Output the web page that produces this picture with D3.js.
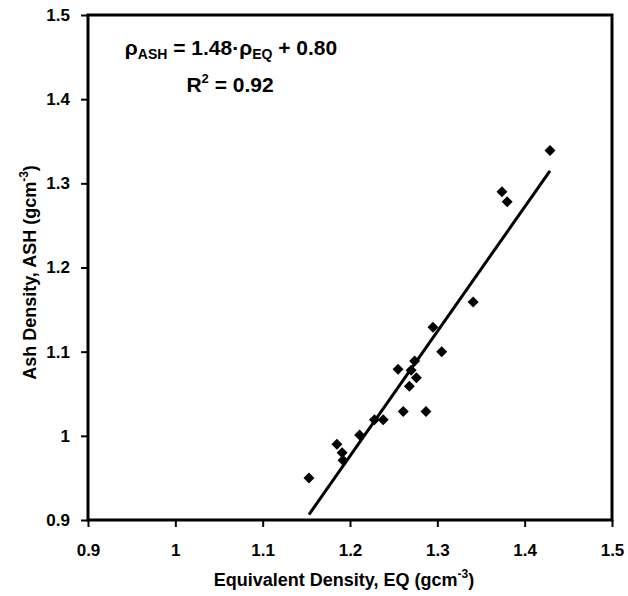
<!DOCTYPE html>
<html>
<head>
<meta charset="utf-8">
<script src="https://cdn.jsdelivr.net/npm/d3@7"></script>
<style>
  body { margin: 0; background: #fff; }
  svg { display: block; font-family: "Liberation Sans", Arial, sans-serif; }
</style>
</head>
<body>
<svg id="chart" width="628" height="596"></svg>
<script>
// data
const eqDensity = [1.153, 1.185, 1.191, 1.192, 1.211, 1.228, 1.238, 1.261, 1.287,
  1.255, 1.274, 1.270, 1.276, 1.268, 1.305, 1.295, 1.341, 1.374, 1.380, 1.429];
const ashDensity = [0.950, 0.990, 0.980, 0.971, 1.001, 1.019, 1.019, 1.029, 1.029,
  1.079, 1.089, 1.078, 1.069, 1.059, 1.100, 1.129, 1.159, 1.290, 1.278, 1.339];
const xTicks = [0.9, 1, 1.1, 1.2, 1.3, 1.4, 1.5];
const yTicks = [0.9, 1, 1.1, 1.2, 1.3, 1.4, 1.5];
const fitSlope = 1.48;
const fitIntercept = -0.80;

const margin = { top: 15, right: 16, bottom: 76, left: 88 };
const width = 628 - margin.left - margin.right;
const height = 596 - margin.top - margin.bottom;

const svg = d3.select("#chart");
const g = svg.append("g")
  .attr("transform", `translate(${margin.left},${margin.top})`);

const x = d3.scaleLinear().domain([0.9, 1.5]).range([0, width]);
const y = d3.scaleLinear().domain([0.9, 1.5]).range([height, 0]);

const fmt = d => d === 1 ? "1" : d3.format(".1f")(d);

// axes
const xAxis = g.append("g")
  .attr("transform", `translate(0,${height})`)
  .call(d3.axisBottom(x).tickValues(xTicks).tickFormat(fmt).tickSize(7).tickPadding(17));
const yAxis = g.append("g")
  .call(d3.axisLeft(y).tickValues(yTicks).tickFormat(fmt).tickSize(7).tickPadding(11));

[xAxis, yAxis].forEach(a => {
  a.select(".domain").remove();
  a.selectAll("line").attr("stroke", "#000").attr("stroke-width", 2);
  a.selectAll("text")
    .attr("fill", "#000")
    .style("font-size", "17px")
    .style("font-weight", "bold")
    .style("font-family", "'Liberation Sans Narrow', 'Liberation Sans', Arial, sans-serif");
});

// frame
g.append("rect")
  .attr("width", width)
  .attr("height", height)
  .attr("fill", "none")
  .attr("stroke", "#000")
  .attr("stroke-width", 3);

// fitted line
const x0 = d3.min(eqDensity), x1 = d3.max(eqDensity);
g.append("line")
  .attr("x1", x(x0)).attr("y1", y(fitSlope * x0 + fitIntercept))
  .attr("x2", x(x1)).attr("y2", y(fitSlope * x1 + fitIntercept))
  .attr("stroke", "#000")
  .attr("stroke-width", 3);

// points
const points = eqDensity.map((d, i) => ({ eq: d, ash: ashDensity[i] }));
g.selectAll(".pt")
  .data(points)
  .join("path")
  .attr("class", "pt")
  .attr("d", d3.symbol(d3.symbolSquare, 60))
  .attr("transform", d => `translate(${x(d.eq)},${y(d.ash)}) rotate(45)`)
  .attr("fill", "#000");

// equation
const eq = g.append("text")
  .attr("x", 143)
  .attr("y", 40)
  .attr("text-anchor", "middle")
  .style("font-size", "21px")
  .style("font-weight", "bold");
eq.append("tspan").text("ρ");
eq.append("tspan").attr("dy", 4).style("font-size", "14px").text("ASH");
eq.append("tspan").attr("dy", -4).text(" = 1.48·ρ");
eq.append("tspan").attr("dy", 4).style("font-size", "14px").text("EQ");
eq.append("tspan").attr("dy", -4).text(" + 0.80");

const r2 = g.append("text")
  .attr("x", 142)
  .attr("y", 77)
  .attr("text-anchor", "middle")
  .style("font-size", "21px")
  .style("font-weight", "bold");
r2.append("tspan").text("R");
r2.append("tspan").attr("dy", -9).style("font-size", "13px").text("2");
r2.append("tspan").attr("dy", 9).text(" = 0.92");

// axis titles
const xt = svg.append("text")
  .attr("x", margin.left + width / 2 - 6)
  .attr("y", 586)
  .attr("text-anchor", "middle")
  .style("font-size", "18px")
  .style("font-weight", "bold");
xt.append("tspan").text("Equivalent Density, EQ (gcm");
xt.append("tspan").attr("dy", -8).style("font-size", "12px").text("-3");
xt.append("tspan").attr("dy", 8).text(")");

const yt = svg.append("text")
  .attr("transform", `translate(36,${margin.top + height / 2 + 5}) rotate(-90)`)
  .attr("text-anchor", "middle")
  .style("font-size", "18px")
  .style("font-weight", "bold");
yt.append("tspan").text("Ash Density, ASH (gcm");
yt.append("tspan").attr("dy", -8).style("font-size", "12px").text("-3");
yt.append("tspan").attr("dy", 8).text(")");
</script>
</body>
</html>
